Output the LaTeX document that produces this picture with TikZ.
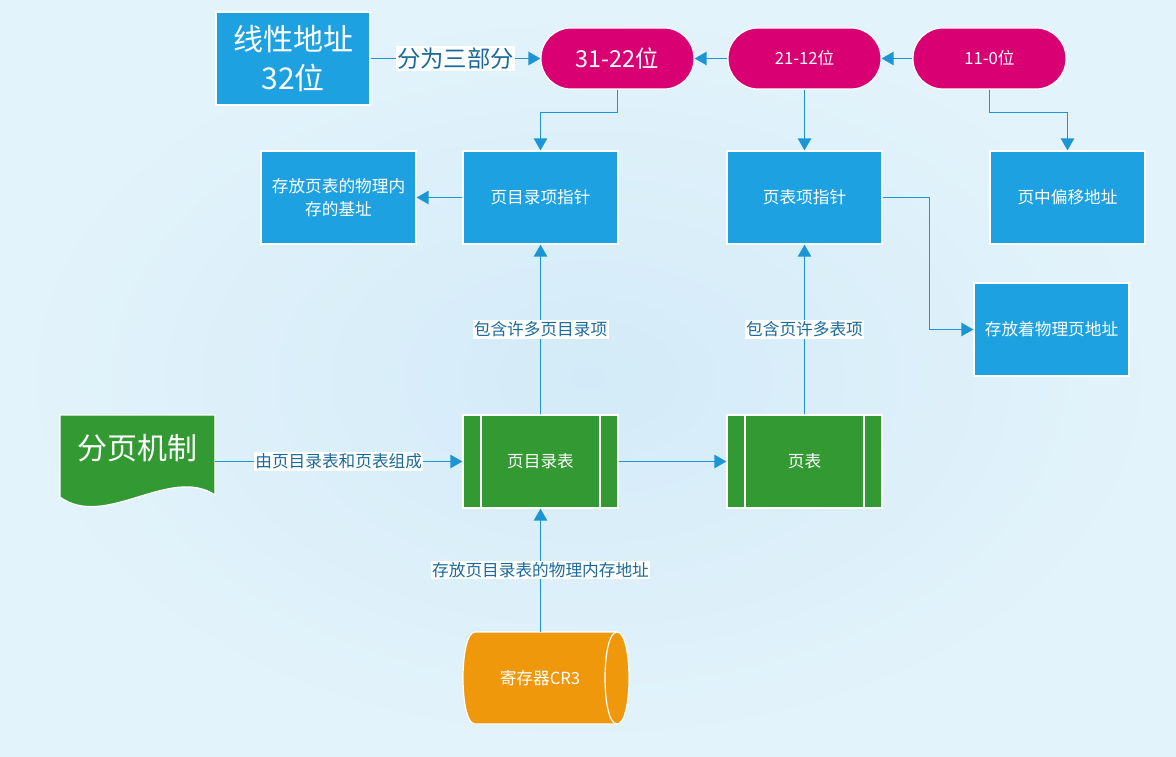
\documentclass[tikz,border=0pt]{standalone}
\usepackage{fontspec}
\setmainfont{Noto Sans CJK SC}
\usetikzlibrary{arrows.meta}
\definecolor{boxblue}{HTML}{1DA1E0}
\definecolor{bitpink}{HTML}{D80073}
\definecolor{tablegreen}{HTML}{339933}
\definecolor{regorange}{HTML}{F0980B}
\definecolor{linkblue}{HTML}{1C95D4}
\definecolor{labelink}{HTML}{1A6A9B}
\definecolor{bgedge}{HTML}{E3F3FB}
\definecolor{bgmid}{HTML}{D3EBF8}
\tikzset{
  infobox/.style={draw=white, line width=0.9pt, fill=boxblue, text=white,
    minimum width=116.25pt, minimum height=69.75pt, inner sep=2pt, align=center,
    font=\fontsize{12.5}{17}\selectfont},
  bitpill/.style={draw=white, line width=0.9pt, fill=bitpink, text=white,
    rounded corners=22.5pt, minimum width=114.75pt, minimum height=45.75pt,
    font=\fontsize{12.5}{15}\selectfont},
  tablebox/.style={infobox, fill=tablegreen,
    path picture={
      \draw[white, line width=0.9pt]
        ([xshift=13.5pt]path picture bounding box.north west) -- ([xshift=13.5pt]path picture bounding box.south west)
        ([xshift=-13.5pt]path picture bounding box.north east) -- ([xshift=-13.5pt]path picture bounding box.south east);}},
  link/.style={draw=linkblue, line width=1.1pt, -{Triangle[length=9pt, width=10pt]}},
  elabel/.style={fill=white, text=labelink, inner sep=1pt, font=\fontsize{12.5}{15}\selectfont},
}

\begin{document}
\begin{tikzpicture}[x=0.75pt, y=-0.75pt]
  \useasboundingbox (0,0) rectangle (1176,756);
  \shade[inner color=bgmid, outer color=bgedge] (0,0) rectangle (1176,756);

  % top row: the three bit fields
  \node[infobox, minimum width=115.5pt, font=\fontsize{22.5}{29}\selectfont] (addr) at (293,58.5) {线性地址\\32位};
  \node[bitpill, font=\fontsize{17.5}{20}\selectfont] (p1) at (617.5,58.5) {31-22位};
  \node[bitpill] (p2) at (804.5,58.5) {21-12位};
  \node[bitpill] (p3) at (989.5,58.5) {11-0位};

  % pointers
  \node[infobox] (base) at (338.5,197.5) {存放页表的物理内\\存的基址};
  \node[infobox] (pde) at (540.5,197.5) {页目录项指针};
  \node[infobox] (pte) at (804.5,197.5) {页表项指针};
  \node[infobox] (off) at (1067.5,197.5) {页中偏移地址};
  \node[infobox] (phys) at (1051.5,329.5) {存放着物理页地址};

  % tables
  \node[tablebox] (pdt) at (540.5,461.5) {页目录表};
  \node[tablebox] (pt) at (804.5,461.5) {页表};

  % paging (document shape)
  \filldraw[fill=tablegreen, draw=white, line width=0.9pt]
    (60,415) -- (215,415) -- (215,495) .. controls (170,465) and (105,530) .. (60,497) -- cycle;
  \node[text=white, font=\fontsize{22.5}{26}\selectfont] (paging) at (137.5,448) {分页机制};
  \coordinate (paging out) at (215,461.5);

  % register (cylinder)
  \filldraw[fill=regorange, draw=white, line width=0.9pt]
    (475,632) -- (617,632) .. controls (633,632) and (633,724) .. (617,724) -- (475,724)
    .. controls (459,724) and (459,632) .. (475,632) -- cycle;
  \draw[white, line width=0.9pt] (617,632) .. controls (601,632) and (601,724) .. (617,724);
  \node[text=white, font=\fontsize{12.5}{15}\selectfont] (cr3) at (540,678) {寄存器CR3};
  \coordinate (cr3 top) at (540.5,632);

  % connectors
  \draw[link] (addr) -- node[elabel, font=\fontsize{17.5}{20}\selectfont] {分为三部分} (p1);
  \draw[link] (p2) -- (p1);
  \draw[link] (p3) -- (p2);
  \draw[link] (p1.south) -- ++(0,23) -| (pde.north);
  \draw[link] (p2) -- (pte);
  \draw[link] (p3.south) -- ++(0,23) -| (off.north);
  \draw[link] (pde) -- (base);
  \draw[link] (pte.east) -- ++(47,0) |- (phys.west);
  \draw[link] (pdt) -- node[elabel] {包含许多页目录项} (pde);
  \draw[link] (pt) -- node[elabel] {包含页许多表项} (pte);
  \draw[link] (paging out) -- node[elabel] {由页目录表和页表组成} (pdt);
  \draw[link] (pdt) -- (pt);
  \draw[link] (cr3 top) -- node[elabel] {存放页目录表的物理内存地址} (pdt);
\end{tikzpicture}
\end{document}
